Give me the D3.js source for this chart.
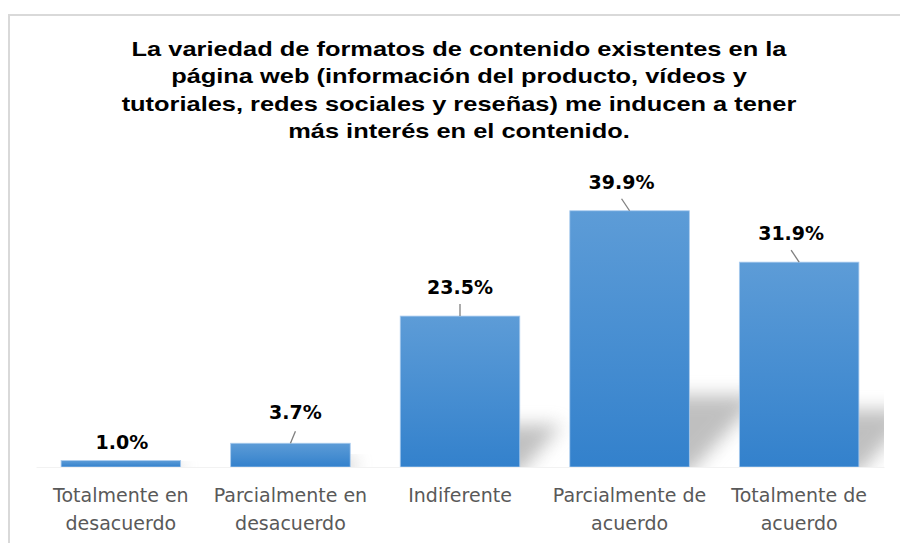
<!DOCTYPE html>
<html lang="es">
<head>
<meta charset="utf-8" />
<title>Formatos de contenido</title>
<script src="https://cdn.jsdelivr.net/npm/d3@7/dist/d3.min.js"></script>
<style>
  body { margin: 0; background: #fff; }
  svg { display: block; }
</style>
</head>
<body>
<svg id="chart" width="900" height="543" viewBox="0 0 900 543"></svg>
<script>
// categories and values (percent)
const categories = [
  ["Totalmente en", "desacuerdo"],
  ["Parcialmente en", "desacuerdo"],
  ["Indiferente"],
  ["Parcialmente de", "acuerdo"],
  ["Totalmente de", "acuerdo"]
];
const values = [1.0, 3.7, 23.5, 39.9, 31.9];
const titleLines = [
  "La variedad de formatos de contenido existentes en la",
  "página web (información del producto, vídeos y",
  "tutoriales, redes sociales y reseñas) me inducen a tener",
  "más interés en el contenido."
];
// where each value label sits relative to its bar (label nudges)
const labelGap = [19, 31, 29, 29, 29];
const labelDx = [1, 5, 0, -8, -8];

const bars = values.map((v, i) => ({ i: i, v: v, gap: labelGap[i], dx: labelDx[i] }));

const svg = d3.select("#chart");
const width = 900, height = 543;
const margin = { top: 178, right: 16, bottom: 76, left: 36 };
const innerW = width - margin.left - margin.right;
const innerH = height - margin.top - margin.bottom;

// frame
svg.append("path")
  .attr("d", "M9,545 L9,15 L902,15")
  .attr("fill", "none")
  .attr("stroke", "#d9d9d9")
  .attr("stroke-width", 2);

// title (the original renders it wide, so stretch it horizontally)
svg.append("g")
  .attr("transform", "translate(459,0) scale(1.21,1)")
  .append("text")
  .attr("x", 0)
  .attr("y", 56)
  .attr("text-anchor", "middle")
  .attr("font-family", "Liberation Sans, Arial, sans-serif")
  .attr("font-weight", "bold")
  .attr("font-size", "21px")
  .attr("fill", "#000")
  .selectAll("tspan")
  .data(titleLines)
  .enter()
  .append("tspan")
  .attr("x", 0)
  .attr("dy", (d, i) => i === 0 ? 0 : 27.4)
  .text(d => d);

const defs = svg.append("defs");
const grad = defs.append("linearGradient")
  .attr("id", "barGrad")
  .attr("x1", 0).attr("y1", 0).attr("x2", 0).attr("y2", 1);
grad.append("stop").attr("offset", "0%").attr("stop-color", "#5d9cd7");
grad.append("stop").attr("offset", "100%").attr("stop-color", "#3381cc");

defs.append("filter")
  .attr("id", "blur")
  .attr("x", "-50%").attr("y", "-50%").attr("width", "200%").attr("height", "200%")
  .append("feGaussianBlur")
  .attr("stdDeviation", 9);

defs.append("clipPath")
  .attr("id", "plotClip")
  .append("rect")
  .attr("x", 0).attr("y", -20)
  .attr("width", innerW).attr("height", innerH + 20);

const g = svg.append("g")
  .attr("transform", `translate(${margin.left},${margin.top})`);

const x = d3.scaleBand()
  .domain(d3.range(values.length))
  .range([0, innerW])
  .paddingInner(0.295)
  .paddingOuter(0.148);

const y = d3.scaleLinear()
  .domain([0, 45])
  .range([innerH, 0]);

// perspective shadows behind the bars
const shadows = g.append("g").attr("clip-path", "url(#plotClip)");
shadows.selectAll("path")
  .data(bars)
  .enter()
  .append("path")
  .attr("d", d => {
    const x0 = x(d.i) + 20, x1 = x(d.i) + x.bandwidth();
    const h = (innerH - y(d.v)) * 0.28;
    const dx = h * 1.0;
    return `M${x0},${innerH + 6} L${x1},${innerH + 6} L${x1 + dx},${innerH - h} L${x0 + dx},${innerH - h} Z`;
  })
  .attr("fill", "#8c8c8c")
  .attr("opacity", 0.55)
  .attr("filter", "url(#blur)");

// white cover below baseline so the shadow does not bleed
g.append("rect")
  .attr("x", -10).attr("y", innerH)
  .attr("width", innerW + 30).attr("height", 40)
  .attr("fill", "#fff");

// bars
g.selectAll("rect.bar")
  .data(bars)
  .enter()
  .append("rect")
  .attr("class", "bar")
  .attr("x", d => x(d.i))
  .attr("y", d => y(d.v))
  .attr("width", x.bandwidth())
  .attr("height", d => innerH - y(d.v))
  .attr("fill", "url(#barGrad)")
  .attr("stroke", "#a9cbee")
  .attr("stroke-width", 0.8);

// leader lines
g.selectAll("line.leader")
  .data(bars.filter(d => d.gap > 20))
  .enter()
  .append("line")
  .attr("class", "leader")
  .attr("x1", d => x(d.i) + x.bandwidth() / 2 + d.dx)
  .attr("y1", d => y(d.v) - 12)
  .attr("x2", d => x(d.i) + x.bandwidth() / 2)
  .attr("y2", d => y(d.v))
  .attr("stroke", "#7f7f7f")
  .attr("stroke-width", 1.3);

// value labels
g.selectAll("text.value")
  .data(bars)
  .enter()
  .append("text")
  .attr("class", "value")
  .attr("x", d => x(d.i) + x.bandwidth() / 2 + d.dx)
  .attr("y", d => y(d.v) - d.gap + 7)
  .attr("text-anchor", "middle")
  .attr("font-family", "DejaVu Sans, Verdana, sans-serif")
  .attr("font-weight", "bold")
  .attr("font-size", "19px")
  .attr("fill", "#000")
  .text(d => d3.format(".1f")(d.v) + "%");

// category axis
const xAxis = g.append("g")
  .attr("transform", `translate(0,${innerH})`)
  .call(d3.axisBottom(x).tickSize(0).tickFormat(""));
xAxis.select(".domain").attr("stroke", "#f2f2f2");

xAxis.selectAll(".tick")
  .append("text")
  .attr("text-anchor", "middle")
  .attr("font-family", "DejaVu Sans, Verdana, sans-serif")
  .attr("font-size", "19px")
  .attr("fill", "#595959")
  .selectAll("tspan")
  .data(i => categories[i])
  .enter()
  .append("tspan")
  .attr("x", 0)
  .attr("y", (d, j) => 35 + j * 28)
  .text(d => d);
</script>
</body>
</html>
